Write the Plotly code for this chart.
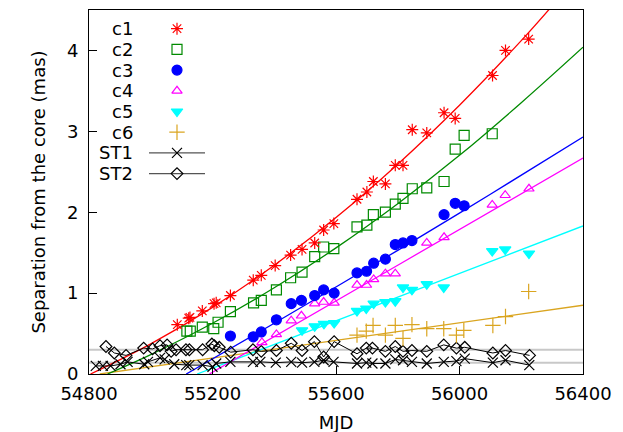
import plotly.graph_objects as go

# ---------------- data ----------------
c1_mjd = [55086, 55123, 55127, 55167, 55205, 55212, 55258, 55332, 55358, 55403, 55453, 55490,
          55531, 55560, 55593, 55668, 55700, 55721, 55760, 55792, 55817, 55847, 55894, 55950,
          55986, 56107, 56149, 56224]
c1_sep = [0.61, 0.69, 0.70, 0.78, 0.87, 0.88, 0.97, 1.16, 1.22, 1.34, 1.47, 1.54,
          1.62, 1.78, 1.86, 2.16, 2.25, 2.38, 2.35, 2.58, 2.58, 3.02, 2.98, 3.23,
          3.16, 3.69, 4.00, 4.14]

c2_mjd = [55117, 55128, 55167, 55204, 55218, 55258, 55333, 55358, 55407, 55453, 55490, 55531,
          55560, 55593, 55668, 55700, 55721, 55760, 55792, 55817, 55847, 55894, 55950, 55986,
          56015, 56106]
c2_sep = [0.53, 0.53, 0.58, 0.56, 0.64, 0.77, 0.88, 0.91, 1.04, 1.19, 1.26, 1.45,
          1.57, 1.55, 1.82, 1.84, 1.97, 2.00, 2.10, 2.17, 2.29, 2.30, 2.38, 2.78,
          2.95, 2.97]

c3_mjd = [55258, 55332, 55358, 55407, 55455, 55488, 55531, 55560, 55594, 55668, 55699, 55722,
          55760, 55792, 55817, 55846, 55950, 55986, 56015]
c3_sep = [0.47, 0.46, 0.52, 0.67, 0.87, 0.91, 0.97, 1.04, 1.00, 1.25, 1.27, 1.37,
          1.42, 1.60, 1.62, 1.65, 1.97, 2.11, 2.08]

c4_mjd = [55360, 55407, 55455, 55488, 55531, 55560, 55594, 55668, 55699, 55722, 55760, 55792,
          55894, 55950, 56106, 56148, 56225]
c4_sep = [0.39, 0.49, 0.66, 0.72, 0.87, 0.89, 0.88, 1.10, 1.10, 1.17, 1.24, 1.24,
          1.62, 1.69, 2.09, 2.21, 2.29]

c5_mjd = [55490, 55531, 55561, 55594, 55668, 55698, 55722, 55760, 55792, 55817, 55846, 55894,
          55949, 56106, 56148, 56225]
c5_sep = [0.54, 0.59, 0.62, 0.63, 0.78, 0.81, 0.87, 0.89, 0.90, 1.07, 1.04, 1.11,
          1.07, 1.52, 1.54, 1.49]

c6_mjd = [55668, 55698, 55720, 55760, 55792, 55817, 55846, 55894, 55949, 55990, 56014, 56108,
          56149, 56224]
c6_sep = [0.48, 0.53, 0.60, 0.48, 0.60, 0.44, 0.61, 0.56, 0.56, 0.48, 0.54, 0.60,
          0.71, 1.02]

st1_mjd = [54822, 54845, 54870, 54902, 54925, 54979, 54991, 55030, 55045, 55076, 55115, 55125,
           55168, 55200, 55212, 55258, 55331, 55355, 55405, 55455, 55490, 55530, 55560, 55592,
           55668, 55698, 55718, 55760, 55792, 55817, 55846, 55894, 55949, 55990, 56017, 56108,
           56149, 56226]
st1_sep = [0.10, 0.10, 0.10, 0.12, 0.15, 0.12, 0.15, 0.20, 0.18, 0.12, 0.11, 0.11,
           0.11, 0.09, 0.13, 0.15, 0.15, 0.15, 0.14, 0.15, 0.14, 0.15, 0.17, 0.15,
           0.13, 0.14, 0.13, 0.13, 0.18, 0.17, 0.15, 0.13, 0.15, 0.16, 0.19, 0.14,
           0.17, 0.11]

st2_mjd = [54855, 54882, 54920, 54977, 55006, 55030, 55053, 55066, 55082, 55114, 55125, 55168,
           55198, 55206, 55222, 55259, 55331, 55358, 55407, 55455, 55490, 55530, 55560, 55594,
           55668, 55698, 55718, 55760, 55792, 55817, 55846, 55894, 55949, 55990, 56017, 56108,
           56149, 56227]
st2_sep = [0.34, 0.26, 0.23, 0.32, 0.31, 0.35, 0.36, 0.28, 0.30, 0.30, 0.30, 0.30,
           0.37, 0.35, 0.33, 0.27, 0.30, 0.28, 0.29, 0.38, 0.29, 0.40, 0.21, 0.40,
           0.25, 0.32, 0.32, 0.28, 0.34, 0.28, 0.29, 0.28, 0.36, 0.32, 0.33, 0.26,
           0.29, 0.23]

# fitted trajectories
fit1_mjd = [54805, 55000, 55200, 55400, 55600, 55800, 56000, 56200, 56300]
fit1_sep = [0.0, 0.373, 0.824, 1.345, 1.935, 2.594, 3.323, 4.121, 4.55]
fit2_mjd = [54860, 55000, 55200, 55400, 55600, 55800, 56000, 56200, 56400]
fit2_sep = [0.0, 0.240, 0.627, 1.066, 1.559, 2.105, 2.703, 3.354, 4.040]
fit3_mjd = [55115, 55400, 55800, 56100, 56400]
fit3_sep = [0.0, 0.627, 1.529, 2.222, 2.93]
fit4_mjd = [55190, 55800, 56400]
fit4_sep = [0.0, 1.345, 2.67]
fit5_mjd = [55150, 55800, 56400]
fit5_sep = [0.0, 0.95, 1.83]
fit6_mjd = [54835, 55600, 56400]
fit6_sep = [0.0, 0.415, 0.85]

# mean levels of the stationary features
st_range_mjd = [54800, 56400]
st1_mean = 0.14
st2_mean = 0.30

x_ticks = [54800, 55200, 55600, 56000, 56400]
y_ticks = [0, 1, 2, 3, 4]

legend_names = ["c1", "c2", "c3", "c4", "c5", "c6", "ST1", "ST2"]

# ---------------- styles ----------------
FONT = "DejaVu Sans"
RED, GREEN, BLUE, MAG, CYAN, ORANGE = "#ff0000", "#008a00", "#0000ff", "#ff00ff", "#00ffff", "#daa520"

fig = go.Figure()

# gray mean lines
for m in (st2_mean, st1_mean):
    fig.add_trace(go.Scatter(x=st_range_mjd, y=[m, m], mode="lines",
                             line=dict(color="#c8c8c8", width=2), showlegend=False, hoverinfo="skip"))

fits = [(fit6_mjd, fit6_sep, ORANGE), (fit5_mjd, fit5_sep, CYAN), (fit4_mjd, fit4_sep, MAG),
        (fit3_mjd, fit3_sep, BLUE), (fit2_mjd, fit2_sep, GREEN), (fit1_mjd, fit1_sep, RED)]
for fx, fy, col in fits:
    fig.add_trace(go.Scatter(x=fx, y=fy, mode="lines", line=dict(color=col, width=1.3, shape="spline"),
                             showlegend=False))

styles = {
    "c1": dict(symbol="asterisk-open", size=10, color=RED),
    "c2": dict(symbol="square-open", size=10, color=GREEN),
    "c3": dict(symbol="circle", size=10, color=BLUE),
    "c4": dict(symbol="triangle-up-open", size=9, color=MAG),
    "c5": dict(symbol="triangle-down", size=10, color=CYAN),
    "c6": dict(symbol="cross-thin-open", size=11, color=ORANGE),
    "ST1": dict(symbol="x-thin-open", size=10, color="black"),
    "ST2": dict(symbol="diamond-open", size=9, color="black"),
}

def mk(name):
    s = styles[name]
    return dict(symbol=s["symbol"], size=s["size"], color=s["color"],
                line=dict(color=s["color"], width=1.2))

fig.add_trace(go.Scatter(x=st1_mjd, y=st1_sep, mode="lines+markers", marker=mk("ST1"),
                         line=dict(color="black", width=1), showlegend=False))
fig.add_trace(go.Scatter(x=st2_mjd, y=st2_sep, mode="lines+markers", marker=mk("ST2"),
                         line=dict(color="black", width=1), showlegend=False))
for name, xs, ys in [("c6", c6_mjd, c6_sep), ("c5", c5_mjd, c5_sep), ("c4", c4_mjd, c4_sep),
                     ("c3", c3_mjd, c3_sep), ("c2", c2_mjd, c2_sep), ("c1", c1_mjd, c1_sep)]:
    fig.add_trace(go.Scatter(x=xs, y=ys, mode="markers", marker=mk(name), showlegend=False))

# ---------------- custom key (gnuplot style: label, then symbol) ----------------
# overlay axes in pixel units of the plot area
L, R, T, B = 81, 575, 2, 366
key_y0, key_dy = 20.7, 20.7
key_text_x, key_sym_x, key_line = 127, 169, (141, 197)
for i, name in enumerate(legend_names):
    yy = key_y0 + i * key_dy
    fig.add_annotation(x=key_text_x, y=yy, xref="x2", yref="y2", text=name, showarrow=False,
                       xanchor="right", yanchor="middle", font=dict(family=FONT, size=18, color="black"))
    if name.startswith("ST"):
        fig.add_trace(go.Scatter(x=list(key_line), y=[yy, yy], xaxis="x2", yaxis="y2", mode="lines",
                                 line=dict(color="#555555", width=1.2), showlegend=False, hoverinfo="skip"))
    fig.add_trace(go.Scatter(x=[key_sym_x], y=[yy], xaxis="x2", yaxis="y2", mode="markers",
                             marker=mk(name), showlegend=False, hoverinfo="skip"))

axis_common = dict(showline=True, linecolor="black", linewidth=1, mirror=True, ticks="inside",
                   ticklen=8, tickwidth=1, tickcolor="black", showgrid=False, zeroline=False,
                   automargin=False, tickfont=dict(family=FONT, size=18, color="black"))

fig.update_layout(
    width=623, height=432,
    margin=dict(l=L, r=623 - R, t=T, b=432 - B, autoexpand=False),
    paper_bgcolor="white", plot_bgcolor="white",
    font=dict(family=FONT, size=18, color="black"),
    xaxis=dict(range=[54800, 56400], tickvals=x_ticks, ticktext=[str(v) for v in x_ticks],
               title=dict(text="MJD", font=dict(family=FONT, size=18), standoff=13),
               ticklabelstandoff=3, **axis_common),
    yaxis=dict(range=[0, 4.5], tickvals=y_ticks, ticktext=[str(v) for v in y_ticks],
               title=dict(text="Separation from the core (mas)", font=dict(family=FONT, size=18), standoff=16),
               ticklabelstandoff=6, **axis_common),
    xaxis2=dict(overlaying="x", range=[L, R], visible=False, fixedrange=True),
    yaxis2=dict(overlaying="y", range=[B, T], visible=False, fixedrange=True),
    showlegend=False,
)

fig.write_html("out.html")
